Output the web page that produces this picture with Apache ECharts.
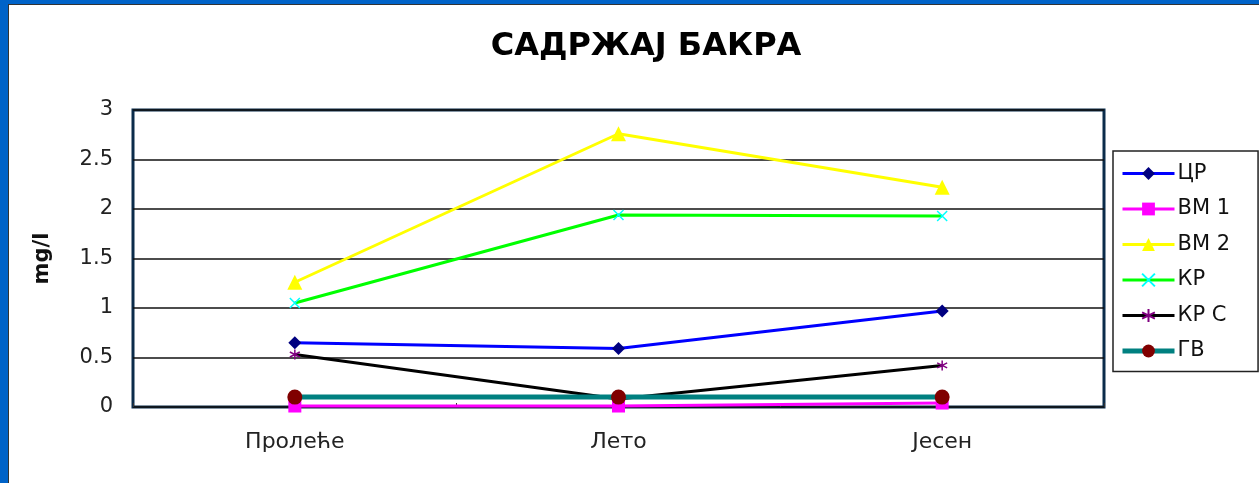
<!DOCTYPE html>
<html>
<head>
<meta charset="utf-8">
<script src="https://cdn.jsdelivr.net/npm/echarts@6/dist/echarts.min.js"></script>
<style>
  html, body { margin: 0; padding: 0; background: #fff; }
  #wrap { position: relative; width: 1259px; height: 483px; overflow: hidden; }
  #chart { position: absolute; left: 0; top: 0; width: 1259px; height: 483px; }
  #frameL { position: absolute; left: 0; top: 0; width: 8px; height: 483px; background: #0063c8; }
  #frameT { position: absolute; left: 0; top: 0; width: 1259px; height: 4px; background: #0063c8; }
  #innerL { position: absolute; left: 8px; top: 4px; width: 1px; height: 479px; background: #333; }
  #innerT { position: absolute; left: 8px; top: 4px; width: 1251px; height: 1px; background: #333; }
</style>
</head>
<body>
<div id="wrap">
  <div id="chart"></div>
  <div id="frameL"></div><div id="frameT"></div>
  <div id="innerL"></div><div id="innerT"></div>
</div>
<script>
// подаци
const categories = ['Пролеће', 'Лето', 'Јесен'];
const names = ['ЦР', 'ВМ 1', 'ВМ 2', 'КР', 'КР С', 'ГВ'];
const cr = [0.65, 0.59, 0.97];
const vm1 = [0.01, 0.01, 0.04];
const vm2 = [1.26, 2.76, 2.22];
const kr = [1.05, 1.94, 1.93];
const krc = [0.53, 0.08, 0.42];
const gv = [0.1, 0.1, 0.1];

const chart = echarts.init(document.getElementById('chart'));

function line(name, data, lineColor, width, symbol, size, mColor, extra) {
    return Object.assign({
        name: name,
        type: 'line',
        data: data,
        symbol: symbol,
        symbolSize: size,
        lineStyle: { color: lineColor, width: width },
        itemStyle: { color: mColor },
        emphasis: { disabled: true },
        animation: false
    }, extra || {});
}

chart.setOption({
    backgroundColor: '#fff',
    textStyle: { fontFamily: 'DejaVu Sans, sans-serif' },
    title: {
        text: 'САДРЖАЈ БАКРА',
        left: 641,
        top: 26,
        textAlign: 'center',
        textStyle: { fontSize: 32, fontWeight: 'bold', color: '#000', fontFamily: 'DejaVu Sans' }
    },
    grid: {
        left: 133, right: 155, top: 110, bottom: 76,
        show: true, borderColor: '#0b2c4b', borderWidth: 3, backgroundColor: '#fff'
    },
    legend: {
        orient: 'vertical',
        left: 1113, top: 151,
        padding: [12, 28, 10, 7],
        borderColor: '#222', borderWidth: 1.5,
        itemWidth: 52, itemHeight: 16, itemGap: 14.5,
        lineStyle: { width: 3 },
        textStyle: { fontSize: 21, color: '#111', padding: [0, 0, 0, -2], fontFamily: 'DejaVu Sans' },
        data: names.map(function (n) {
            return n === 'ГВ' ? { name: n, lineStyle: { width: 5 } } : { name: n };
        })
    },
    xAxis: {
        type: 'category',
        data: categories,
        boundaryGap: true,
        axisLine: { show: false },
        axisTick: { show: true, inside: true, length: 4, lineStyle: { color: '#333' } },
        axisLabel: { fontSize: 22, color: '#222', margin: 24 }
    },
    yAxis: {
        type: 'value',
        min: 0, max: 3, interval: 0.5,
        name: 'mg/l',
        nameLocation: 'middle',
        nameRotate: 90,
        nameGap: 80,
        nameTextStyle: { fontSize: 21, fontWeight: 'bold', color: '#111' },
        axisLine: { show: false },
        axisTick: { show: false },
        axisLabel: { fontSize: 21, color: '#222', margin: 20 },
        splitLine: { lineStyle: { color: '#111', width: 1.5 } }
    },
    series: [
        line('ЦР', cr, '#0000ff', 3, 'diamond', 13, '#000080'),
        line('ВМ 1', vm1, '#ff00ff', 3, 'rect', 13, '#ff00ff'),
        line('ВМ 2', vm2, '#ffff00', 3, 'triangle', 15, '#ffff00'),
        line('КР', kr, '#00ff00', 3, 'path://M0,0L10,10M10,0L0,10', 10, '#00ffff',
            { itemStyle: { color: '#00ffff', borderColor: '#00ffff', borderWidth: 1.5 } }),
        line('КР С', krc, '#000000', 3, 'path://M5,0L5,10M0,2.5L10,7.5M0,7.5L10,2.5', 10, '#800080',
            { itemStyle: { color: '#800080', borderColor: '#800080', borderWidth: 1.5 } }),
        line('ГВ', gv, '#008080', 5, 'circle', 15, '#800000')
    ]
});
</script>
</body>
</html>
